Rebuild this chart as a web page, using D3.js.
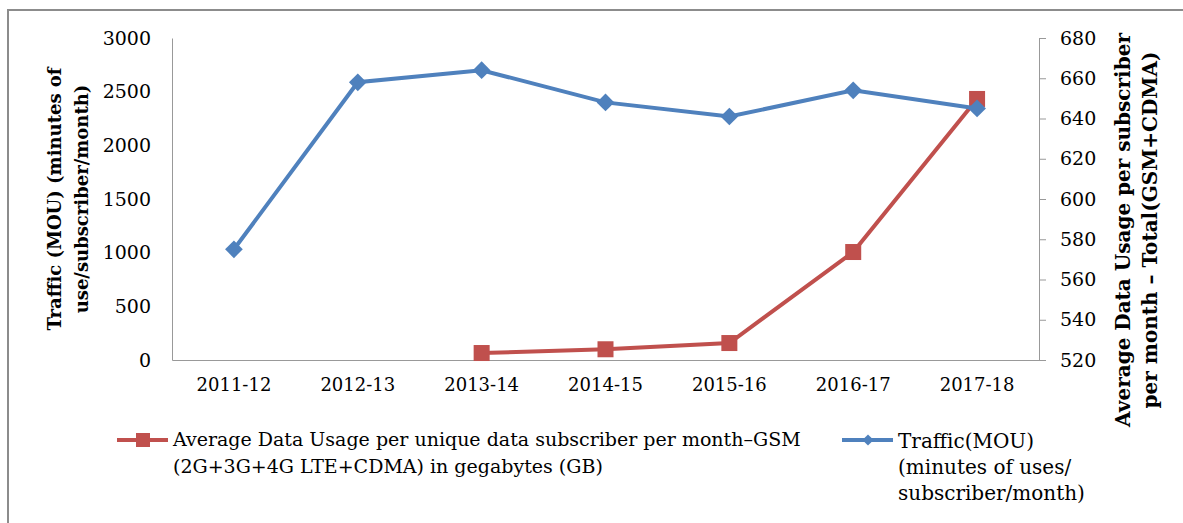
<!DOCTYPE html>
<html>
<head>
<meta charset="utf-8">
<script src="https://cdn.jsdelivr.net/npm/d3@7"></script>
<style>
  body { margin: 0; background: #fff; }
  text { font-family: "DejaVu Serif", "Liberation Serif", serif; fill: #000; }
</style>
</head>
<body>
<div id="chart"></div>
<script>
// data
var years = ["2011-12", "2012-13", "2013-14", "2014-15", "2015-16", "2016-17", "2017-18"];
var dataUsage = [null, null, 65, 100, 158, 1006, 2432];      // left axis
var traffic = [575, 658, 664, 648, 641, 654, 645];            // right axis
var leftTicks = [0, 500, 1000, 1500, 2000, 2500, 3000];
var rightTicks = [520, 540, 560, 580, 600, 620, 640, 660, 680];

var width = 1183, height = 523;
var red = "#C0504D", blue = "#4F81BD";

var svg = d3.select("#chart").append("svg")
    .attr("width", width).attr("height", height);

// outer frame, runs off the right and bottom like the picture
svg.append("rect").attr("x", 8).attr("y", 10)
    .attr("width", 1190).attr("height", 530)
    .attr("fill", "none").attr("stroke", "#8c8c8c").attr("stroke-width", 2);

var x = d3.scaleBand().domain(years).range([172, 1039]);
var yL = d3.scaleLinear().domain([0, 3000]).range([360, 38]);
var yR = d3.scaleLinear().domain([520, 680]).range([360, 38]);

// left axis: no tick marks
var gl = svg.append("g").attr("transform", "translate(172,0)")
    .call(d3.axisLeft(yL).tickValues(leftTicks).tickFormat(d3.format("d")).tickSize(0).tickPadding(21));
gl.select(".domain").attr("stroke", "#999");
gl.selectAll("text").style("font-size", "19px").attr("font-family", null);

var gr = svg.append("g").attr("transform", "translate(1039,0)")
    .call(d3.axisRight(yR).tickValues(rightTicks).tickSize(7).tickPadding(14).tickSizeOuter(0));
gr.select(".domain").attr("stroke", "#999");
gr.selectAll("line").attr("stroke", "#999");
gr.selectAll("text").style("font-size", "19px").attr("font-family", null);

var gx = svg.append("g").attr("transform", "translate(0,360)")
    .call(d3.axisBottom(x).tickSize(0).tickPadding(18));
gx.select(".domain").attr("stroke", "#999");
gx.selectAll("text").style("font-size", "18px").attr("font-family", null);

// axis titles
var lt = svg.append("text")
    .attr("text-anchor", "middle").style("font-size", "18px").style("font-weight", "bold");
lt.append("tspan").attr("x", 0).attr("y", 0).text("Traffic (MOU) (minutes of");
lt.append("tspan").attr("x", 0).attr("y", 27).text("use/subscriber/month)");
lt.attr("transform", "translate(61,199) rotate(-90)");

var rt = svg.append("text").attr("text-anchor", "middle")
    .style("font-size", "20px").style("font-weight", "bold");
rt.append("tspan").attr("x", 0).attr("y", 0).text("Average Data Usage per subscriber");
rt.append("tspan").attr("x", 0).attr("y", 27).text("per month \u2013 Total(GSM+CDMA)");
rt.attr("transform", "translate(1130,230) rotate(-90)");

var cx = function(i) { return x(years[i]) + x.bandwidth() / 2; };

// red series
var redPts = dataUsage.map(function(v, i) { return {i: i, v: v}; }).filter(function(d) { return d.v != null; });
svg.append("path").datum(redPts)
    .attr("fill", "none").attr("stroke", red).attr("stroke-width", 4)
    .attr("d", d3.line().x(function(d) { return cx(d.i); }).y(function(d) { return yL(d.v); }));
svg.selectAll(".sq").data(redPts).enter().append("rect")
    .attr("x", function(d) { return cx(d.i) - 8; })
    .attr("y", function(d) { return yL(d.v) - 8; })
    .attr("width", 16).attr("height", 16).attr("fill", red);

// blue series
var bluePts = traffic.map(function(v, i) { return {i: i, v: v}; });
svg.append("path").datum(bluePts)
    .attr("fill", "none").attr("stroke", blue).attr("stroke-width", 4)
    .attr("d", d3.line().x(function(d) { return cx(d.i); }).y(function(d) { return yR(d.v); }));
var diamond = d3.symbol().type(d3.symbolDiamond2).size(200);
svg.selectAll(".dm").data(bluePts).enter().append("path")
    .attr("d", diamond)
    .attr("transform", function(d) { return "translate(" + cx(d.i) + "," + yR(d.v) + ")"; })
    .attr("fill", blue);

// legend
var lg1 = svg.append("g").attr("transform", "translate(117,440)");
lg1.append("line").attr("x1", 0).attr("x2", 51).attr("stroke", red).attr("stroke-width", 4);
lg1.append("rect").attr("x", 19).attr("y", -7).attr("width", 14).attr("height", 14).attr("fill", red);
var t1 = lg1.append("text").style("font-size", "19px");
t1.append("tspan").attr("x", 56).attr("y", 6).text("Average Data Usage per unique data subscriber per month\u2013GSM");
t1.append("tspan").attr("x", 56).attr("y", 33).text("(2G+3G+4G LTE+CDMA) in gegabytes (GB)");

var lg2 = svg.append("g").attr("transform", "translate(842,440)");
lg2.append("line").attr("x1", 0).attr("x2", 51).attr("stroke", blue).attr("stroke-width", 4);
lg2.append("path").attr("d", d3.symbol().type(d3.symbolDiamond2).size(80))
    .attr("transform", "translate(26,0)").attr("fill", blue);
var t2 = lg2.append("text").style("font-size", "20px");
t2.append("tspan").attr("x", 56).attr("y", 8).text("Traffic(MOU)");
t2.append("tspan").attr("x", 56).attr("y", 34).text("(minutes of uses/");
t2.append("tspan").attr("x", 56).attr("y", 60).text("subscriber/month)");
</script>
</body>
</html>
